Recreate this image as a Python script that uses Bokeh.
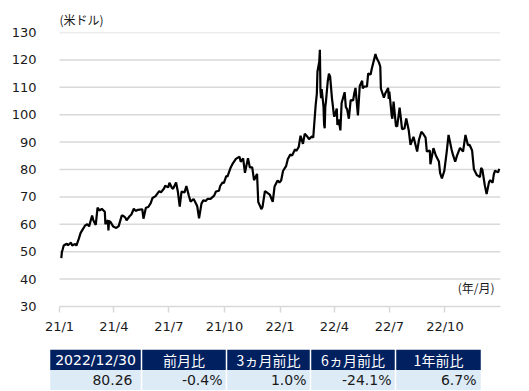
import pandas as pd
from bokeh.plotting import figure
from bokeh.layouts import column
from bokeh.models import Range1d, FixedTicker, Label, ColumnDataSource
from bokeh.embed import file_html
from bokeh.resources import INLINE
from bokeh.core.properties import value

# ---------------- data ----------------
dates_2021 = ["2021-01-04","2021-01-05","2021-01-06","2021-01-08","2021-01-13","2021-01-15","2021-01-20","2021-01-22","2021-01-27","2021-01-29",
"2021-02-02","2021-02-05","2021-02-08","2021-02-10","2021-02-12","2021-02-16","2021-02-19","2021-02-24","2021-02-26",
"2021-03-02","2021-03-05","2021-03-08","2021-03-12","2021-03-17","2021-03-18","2021-03-22","2021-03-23","2021-03-24","2021-03-26","2021-03-31",
"2021-04-05","2021-04-09","2021-04-14","2021-04-16","2021-04-20","2021-04-22","2021-04-27","2021-04-30",
"2021-05-04","2021-05-07","2021-05-11","2021-05-14","2021-05-18","2021-05-20","2021-05-24","2021-05-28",
"2021-06-01","2021-06-04","2021-06-09","2021-06-15","2021-06-18","2021-06-23","2021-06-25","2021-06-30",
"2021-07-02","2021-07-06","2021-07-08","2021-07-13","2021-07-16","2021-07-19","2021-07-22","2021-07-27","2021-07-30",
"2021-08-03","2021-08-06","2021-08-11","2021-08-13","2021-08-17","2021-08-20","2021-08-24","2021-08-27","2021-08-31",
"2021-09-03","2021-09-08","2021-09-14","2021-09-17","2021-09-22","2021-09-24","2021-09-28","2021-09-30",
"2021-10-04","2021-10-06","2021-10-11","2021-10-15","2021-10-20","2021-10-26","2021-10-28",
"2021-11-01","2021-11-04","2021-11-09","2021-11-12","2021-11-16","2021-11-19","2021-11-24","2021-11-26","2021-11-30",
"2021-12-01","2021-12-03","2021-12-07","2021-12-10","2021-12-15","2021-12-20","2021-12-23","2021-12-28","2021-12-31"]
prices_2021 = [47.62,49.93,50.63,52.24,52.91,52.36,53.31,52.27,52.85,52.20,
54.76,56.85,57.97,58.68,59.47,60.05,59.24,63.22,61.50,
59.75,66.09,65.05,65.61,64.60,60.00,61.55,57.76,61.18,60.97,59.16,
58.65,59.32,63.15,63.13,62.44,61.43,62.94,63.58,
65.69,64.90,65.28,65.37,65.49,62.05,66.05,66.32,
67.72,69.62,70.29,72.12,71.64,73.08,74.05,73.47,
75.16,73.37,72.94,75.25,71.81,66.42,71.91,71.65,73.95,
70.56,68.28,69.25,68.44,66.59,62.14,67.54,68.74,68.50,
69.29,69.30,70.46,71.97,72.23,73.98,75.29,75.03,
77.62,77.43,80.52,82.28,83.87,84.65,82.81,
84.05,78.81,84.15,80.79,80.76,76.10,78.39,68.15,66.18,
65.57,66.26,72.05,71.67,70.87,68.23,73.79,75.98,75.21]

dates_2022 = ["2022-01-03","2022-01-06","2022-01-11","2022-01-14","2022-01-18","2022-01-21","2022-01-26","2022-01-28",
"2022-02-01","2022-02-04","2022-02-08","2022-02-11","2022-02-15","2022-02-18","2022-02-23","2022-02-25",
"2022-03-01","2022-03-03","2022-03-04","2022-03-07","2022-03-08","2022-03-09","2022-03-10","2022-03-11","2022-03-14","2022-03-15","2022-03-16","2022-03-17","2022-03-18","2022-03-21","2022-03-23","2022-03-25","2022-03-28","2022-03-29","2022-03-31",
"2022-04-01","2022-04-05","2022-04-06","2022-04-08","2022-04-11","2022-04-13","2022-04-18","2022-04-20","2022-04-22","2022-04-25","2022-04-28",
"2022-05-02","2022-05-04","2022-05-06","2022-05-10","2022-05-13","2022-05-17","2022-05-18","2022-05-20","2022-05-25","2022-05-27","2022-05-31",
"2022-06-02","2022-06-08","2022-06-10","2022-06-14","2022-06-16","2022-06-17","2022-06-22","2022-06-24","2022-06-29","2022-06-30",
"2022-07-01","2022-07-05","2022-07-06","2022-07-08","2022-07-12","2022-07-14","2022-07-18","2022-07-20","2022-07-22","2022-07-26","2022-07-29",
"2022-08-02","2022-08-05","2022-08-10","2022-08-16","2022-08-19","2022-08-23","2022-08-26","2022-08-30",
"2022-09-01","2022-09-06","2022-09-07","2022-09-12","2022-09-16","2022-09-21","2022-09-23","2022-09-26","2022-09-30",
"2022-10-04","2022-10-07","2022-10-12","2022-10-14","2022-10-18","2022-10-21","2022-10-26","2022-10-31",
"2022-11-04","2022-11-08","2022-11-11","2022-11-15","2022-11-18","2022-11-23","2022-11-28","2022-11-30",
"2022-12-02","2022-12-06","2022-12-09","2022-12-13","2022-12-15","2022-12-19","2022-12-21","2022-12-23","2022-12-28","2022-12-30"]
prices_2022 = [76.08,79.46,81.22,83.82,85.43,85.14,87.35,86.82,
88.20,92.31,89.36,93.10,92.07,91.07,92.10,91.59,
103.41,107.67,115.68,119.40,123.70,108.70,106.02,109.33,103.01,96.44,95.04,102.98,104.70,112.12,114.93,113.90,105.96,104.24,100.28,
99.27,102.28,96.23,98.26,94.29,104.25,108.21,102.75,102.07,98.54,105.36,
105.17,107.81,109.77,99.76,110.49,112.40,109.59,110.28,110.33,115.07,114.67,
116.87,122.11,120.67,118.93,117.59,109.56,106.19,107.62,109.78,105.76,
108.43,99.50,98.53,104.79,95.84,95.78,102.60,98.88,94.70,94.98,98.62,
94.42,89.01,91.93,86.53,90.77,93.74,93.06,91.64,
86.61,86.88,81.94,87.78,85.11,82.94,78.74,76.71,79.49,
86.52,92.64,87.27,85.61,82.82,85.05,87.91,86.53,
92.61,88.91,88.96,86.92,80.08,77.94,77.24,80.55,
79.98,74.25,71.02,75.39,76.11,75.19,78.29,79.56,78.96,80.26]

y_ticks = [30, 40, 50, 60, 70, 80, 90, 100, 110, 120, 130]
x_tick_dates = ["2021-01-01", "2021-04-01", "2021-07-01", "2021-10-01",
                "2022-01-01", "2022-04-01", "2022-07-01", "2022-10-01"]
x_tick_labels = ["21/1", "21/4", "21/7", "21/10", "22/1", "22/4", "22/7", "22/10"]
x_start, x_end = "2021-01-01", "2023-01-01"

y_unit_label = "(米ドル)"
x_unit_label = "(年/月)"

table_headers = ["2022/12/30", "前月比", "3ヵ月前比", "6ヵ月前比", "1年前比"]
table_values = ["80.26", "-0.4%", "1.0%", "-24.1%", "6.7%"]

# ---------------- layout constants (pixels) ----------------
W = 529
BORDER_L, BORDER_R = 49, 29          # shared by both figures (frames align)
FRAME_W = W - BORDER_L - BORDER_R    # 451
CHART_INDENT = 10                    # chart area starts 10px right of the shared frame edge
TXT = "#1a1a1a"

# ---------------- chart ----------------
origin = pd.Timestamp(x_start)
def to_day(s):
    return (pd.Timestamp(s) - origin).days

xs = [to_day(d) for d in dates_2021 + dates_2022]
ys = prices_2021 + prices_2022
tick_days = [to_day(d) for d in x_tick_dates]
day_end = to_day(x_end)
day_pad = day_end * CHART_INDENT / (FRAME_W - CHART_INDENT)

p = figure(width=W, height=349, x_range=Range1d(-day_pad, day_end),
           y_range=Range1d(y_ticks[0], y_ticks[-1]),
           output_backend="svg", toolbar_location=None,
           min_border_left=BORDER_L, min_border_right=BORDER_R,
           min_border_top=32, min_border_bottom=43)
p.outline_line_color = None
p.background_fill_color = "white"
p.border_fill_color = "white"

p.title.text = y_unit_label
p.title.align = "left"
p.title.offset = CHART_INDENT
p.title.standoff = 10
p.title.text_font = "Noto Sans CJK JP"
p.title.text_font_size = "12px"
p.title.text_font_style = "normal"
p.title.text_color = TXT

p.xgrid.grid_line_color = None
p.ygrid.grid_line_color = None
# horizontal gridlines over the dated span only
p.segment(x0=[0] * (len(y_ticks) - 1), x1=[day_end] * (len(y_ticks) - 1),
          y0=y_ticks[1:], y1=y_ticks[1:], line_color="#d9d9d9", line_width=1.5)

p.yaxis.ticker = FixedTicker(ticks=y_ticks)
p.yaxis.axis_line_color = None
p.yaxis.major_tick_line_color = None
p.yaxis.minor_tick_line_color = None
p.yaxis.major_label_standoff = 7
p.yaxis.major_label_text_font = "DejaVu Sans"
p.yaxis.major_label_text_font_size = "13px"
p.yaxis.major_label_text_color = TXT

p.xaxis.ticker = FixedTicker(ticks=tick_days)
p.xaxis.bounds = (0, day_end)
p.xaxis.major_label_overrides = {d: lab for d, lab in zip(tick_days, x_tick_labels)}
p.xaxis.axis_line_color = "#d9d9d9"
p.xaxis.axis_line_width = 1.5
p.xaxis.major_tick_line_color = "#d9d9d9"
p.xaxis.major_tick_line_width = 1.5
p.xaxis.major_tick_in = 0
p.xaxis.major_tick_out = 6
p.xaxis.minor_tick_line_color = None
p.xaxis.major_label_standoff = 6
p.xaxis.major_label_text_font = "DejaVu Sans"
p.xaxis.major_label_text_font_size = "13px"
p.xaxis.major_label_text_color = TXT

p.line(xs, ys, line_color="black", line_width=2.2)

p.add_layout(Label(x=day_end, y=y_ticks[0], x_offset=-6, y_offset=19, text=x_unit_label,
                   text_font="Noto Sans CJK JP", text_font_size="12px",
                   text_color=TXT, text_align="right", text_baseline="middle"))

# ---------------- table ----------------
col_widths = [92, 85, 84, 85, 86]
pads = [9, 4, 4, 4, 5]
lefts, rights = [], []
acc = 0
for w in col_widths:
    lefts.append(acc)
    rights.append(acc + w)
    acc += w
gap = 0.75

t = figure(width=W, height=41, x_range=Range1d(0, FRAME_W), y_range=Range1d(0, 2),
           output_backend="svg", toolbar_location=None,
           x_axis_location=None, y_axis_location=None,
           min_border_left=BORDER_L, min_border_right=BORDER_R,
           min_border_top=0, min_border_bottom=0)
t.outline_line_color = None
t.xgrid.grid_line_color = None
t.ygrid.grid_line_color = None

src = ColumnDataSource(dict(
    left=[l + gap for l in lefts], right=[r - gap for r in rights],
    cx=[(l + r) / 2 for l, r in zip(lefts, rights)],
    rx=[r - pd_ for r, pd_ in zip(rights, pads)],
    head=table_headers, val=table_values,
    hfont=["DejaVu Sans"] + ["Noto Sans CJK JP"] * (len(table_headers) - 1),
))
t.quad(left="left", right="right", bottom=1, top=2, source=src,
       fill_color="#002060", line_color=None)
t.quad(left="left", right="right", bottom=0, top=1, source=src,
       fill_color="#ddebf7", line_color=None)
t.text(x="cx", y=1.5, text="head", source=src, text_font="hfont",
       text_font_size="14px", text_color="white",
       text_align="center", text_baseline="middle")
t.text(x="rx", y=0.5, text="val", source=src, text_font=value("DejaVu Sans"),
       text_font_size="14px", text_color=TXT,
       text_align="right", text_baseline="middle")

layout = column(p, t, spacing=0)
open("out.html", "w").write(file_html(layout, INLINE))
